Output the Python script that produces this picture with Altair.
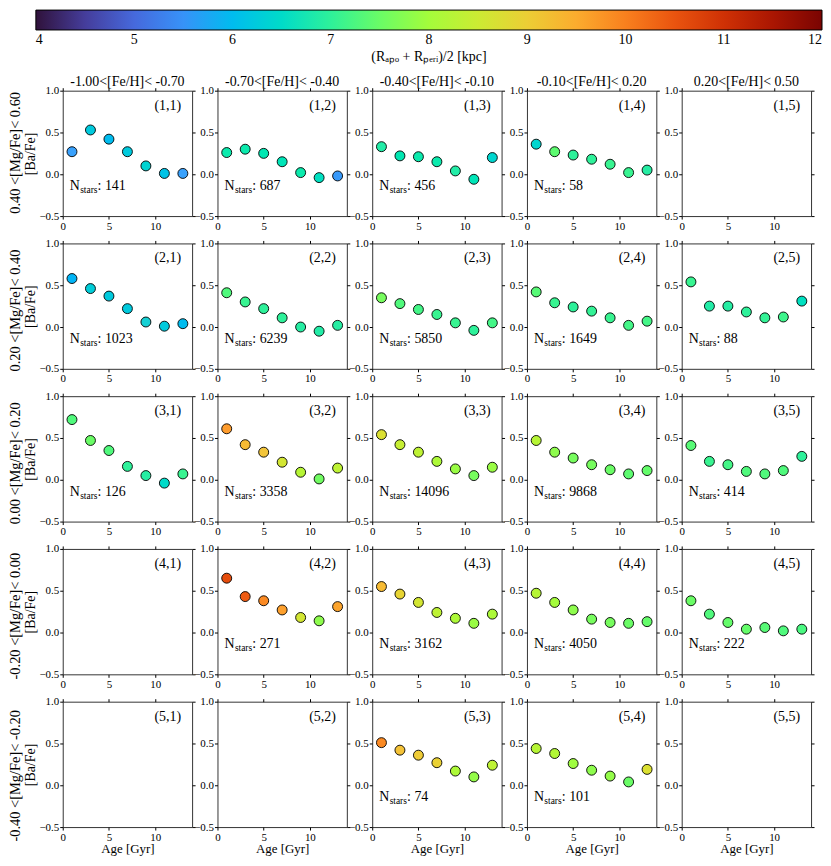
import altair as alt
import pandas as pd

AGES = [1, 3, 5, 7, 9, 11, 13]

FEH_LABELS = ["-1.00<[Fe/H]< -0.70", "-0.70<[Fe/H]< -0.40", "-0.40<[Fe/H]< -0.10",
              "-0.10<[Fe/H]< 0.20", "0.20<[Fe/H]< 0.50"]
MGFE_LABELS = ["0.40 <[Mg/Fe]< 0.60", "0.20 <[Mg/Fe]< 0.40", "0.00 <[Mg/Fe]< 0.20",
               "-0.20 <[Mg/Fe]< 0.00", "-0.40 <[Mg/Fe]< -0.20"]

# [Ba/Fe] per age bin, and mean orbital radius (colour), per panel (row, col)
BAFE_1_1 = [0.27, 0.53, 0.42, 0.27, 0.10, 0.01, 0.01]
R_1_1 = [5.7, 6.2, 6.0, 6.2, 6.35, 6.1, 5.7]
BAFE_1_2 = [0.26, 0.30, 0.25, 0.15, 0.02, -0.04, -0.02]
R_1_2 = [6.8, 6.8, 6.75, 6.7, 6.8, 6.6, 5.6]
BAFE_1_3 = [0.33, 0.22, 0.21, 0.15, 0.04, -0.06, 0.20]
R_1_3 = [6.85, 6.75, 6.8, 6.8, 6.85, 6.7, 6.4]
BAFE_1_4 = [0.36, 0.27, 0.23, 0.18, 0.12, 0.02, 0.05]
R_1_4 = [6.4, 7.4, 7.0, 7.0, 7.1, 7.1, 6.9]

BAFE_2_1 = [0.58, 0.46, 0.37, 0.22, 0.06, 0.01, 0.04]
R_2_1 = [5.9, 6.25, 6.2, 6.2, 6.3, 6.2, 6.0]
BAFE_2_2 = [0.41, 0.30, 0.22, 0.11, 0.00, -0.05, 0.02]
R_2_2 = [7.3, 7.1, 7.0, 7.0, 6.9, 6.85, 6.9]
BAFE_2_3 = [0.35, 0.28, 0.21, 0.15, 0.05, -0.04, 0.05]
R_2_3 = [7.6, 7.3, 7.2, 7.1, 7.1, 7.0, 7.2]
BAFE_2_4 = [0.42, 0.29, 0.24, 0.19, 0.11, 0.02, 0.07]
R_2_4 = [7.35, 7.1, 7.0, 7.05, 7.1, 7.2, 7.2]
BAFE_2_5 = [0.54, 0.25, 0.25, 0.18, 0.11, 0.12, 0.31]
R_2_5 = [7.1, 6.85, 6.9, 7.0, 7.05, 7.15, 6.6]

BAFE_3_1 = [0.72, 0.47, 0.35, 0.16, 0.05, -0.04, 0.07]
R_3_1 = [7.3, 7.5, 7.3, 7.0, 6.9, 6.5, 7.1]
BAFE_3_2 = [0.61, 0.42, 0.33, 0.21, 0.09, 0.01, 0.14]
R_3_2 = [9.7, 9.3, 9.15, 8.6, 8.2, 7.55, 8.3]
BAFE_3_3 = [0.54, 0.42, 0.33, 0.22, 0.13, 0.05, 0.15]
R_3_3 = [8.7, 8.4, 8.3, 8.1, 7.9, 7.6, 7.9]
BAFE_3_4 = [0.47, 0.33, 0.26, 0.18, 0.12, 0.07, 0.11]
R_3_4 = [8.2, 7.8, 7.6, 7.6, 7.5, 7.4, 7.45]
BAFE_3_5 = [0.41, 0.22, 0.18, 0.10, 0.07, 0.11, 0.28]
R_3_5 = [7.35, 7.1, 7.2, 7.3, 7.3, 7.3, 7.0]

BAFE_4_2 = [0.65, 0.43, 0.38, 0.27, 0.18, 0.14, 0.31]
R_4_2 = [10.6, 10.4, 9.9, 9.65, 8.6, 7.8, 9.6]
BAFE_4_3 = [0.55, 0.46, 0.36, 0.24, 0.17, 0.11, 0.22]
R_4_3 = [9.3, 8.9, 8.6, 8.3, 8.1, 7.9, 8.1]
BAFE_4_4 = [0.47, 0.36, 0.27, 0.16, 0.12, 0.11, 0.13]
R_4_4 = [8.2, 8.0, 7.8, 7.6, 7.6, 7.5, 7.45]
BAFE_4_5 = [0.38, 0.22, 0.12, 0.04, 0.06, 0.02, 0.04]
R_4_5 = [7.5, 7.3, 7.45, 7.45, 7.35, 7.3, 7.25]

BAFE_5_3 = [0.51, 0.42, 0.36, 0.27, 0.17, 0.10, 0.24]
R_5_3 = [9.9, 9.2, 9.05, 8.95, 8.1, 7.85, 8.3]
BAFE_5_4 = [0.44, 0.38, 0.26, 0.18, 0.11, 0.04, 0.19]
R_5_4 = [8.2, 8.15, 7.95, 7.8, 7.85, 7.5, 8.7]

PANELS = {
    (1, 1): (BAFE_1_1, R_1_1, 141), (1, 2): (BAFE_1_2, R_1_2, 687),
    (1, 3): (BAFE_1_3, R_1_3, 456), (1, 4): (BAFE_1_4, R_1_4, 58),
    (2, 1): (BAFE_2_1, R_2_1, 1023), (2, 2): (BAFE_2_2, R_2_2, 6239),
    (2, 3): (BAFE_2_3, R_2_3, 5850), (2, 4): (BAFE_2_4, R_2_4, 1649),
    (2, 5): (BAFE_2_5, R_2_5, 88),
    (3, 1): (BAFE_3_1, R_3_1, 126), (3, 2): (BAFE_3_2, R_3_2, 3358),
    (3, 3): (BAFE_3_3, R_3_3, 14096), (3, 4): (BAFE_3_4, R_3_4, 9868),
    (3, 5): (BAFE_3_5, R_3_5, 414),
    (4, 2): (BAFE_4_2, R_4_2, 271), (4, 3): (BAFE_4_3, R_4_3, 3162),
    (4, 4): (BAFE_4_4, R_4_4, 4050), (4, 5): (BAFE_4_5, R_4_5, 222),
    (5, 3): (BAFE_5_3, R_5_3, 74), (5, 4): (BAFE_5_4, R_5_4, 101),
}

TURBO = ['#30123b', '#4145ab', '#4675ed', '#39a2fc', '#1bcfd4', '#24eca6', '#61fc6c',
         '#a4fc3b', '#d1e834', '#f3c63a', '#fe9b2d', '#f36315', '#d93806', '#b11901', '#7a0402']
R_MIN, R_MAX = 4, 12
TURBO_STOPS = [R_MIN + (R_MAX - R_MIN) * k / (len(TURBO) - 1) for k in range(len(TURBO))]
CBAR_TICKS = [4, 5, 6, 7, 8, 9, 10, 11, 12]
AGE_TICKS = [0, 5, 10]
BAFE_TICKS = [-0.5, 0.0, 0.5, 1.0]

FONT = "Liberation Serif"
W, H = 130, 126

color_scale = alt.Scale(domain=TURBO_STOPS, range=TURBO)
x_scale = alt.Scale(domain=[0, 14], nice=False, zero=False)
y_scale = alt.Scale(domain=[-0.5, 1.0], nice=False, zero=False)
cbar_legend = alt.Legend(
    orient="none", legendX=-27, legendY=-81, direction="horizontal",
    gradientLength=790, gradientThickness=20, format="d",
    title="(R\u2090\u209a\u2092 + R\u209a\u2091\u1d63\u1d62)/2 [kpc]",
    titleOrient="bottom", titleAnchor="middle", titleFont=FONT, titleFontSize=14,
    titleFontWeight="normal", titleColor="black", titlePadding=3,
    values=CBAR_TICKS, labelFont=FONT, labelFontSize=14, labelColor="black",
    labelAlign="center", labelOverlap=False, labelOffset=3,
    gradientStrokeColor="black", gradientStrokeWidth=1, padding=0,
)


def make_panel(i, j):
    entry = PANELS.get((i, j))
    if entry:
        df = pd.DataFrame({"age": AGES, "bafe": entry[0], "r": entry[1]})
    else:
        df = pd.DataFrame({"age": pd.Series([], dtype=float),
                           "bafe": pd.Series([], dtype=float),
                           "r": pd.Series([], dtype=float)})
    xaxis = alt.Axis(values=AGE_TICKS, labelFlush=False,
                     title="Age [Gyr]" if i == 5 else None, titleFontSize=13)
    yaxis = alt.Axis(values=BAFE_TICKS, format=".1f",
                     title="[Ba/Fe]" if j == 1 else None, titleFontSize=14)
    pts = alt.Chart(df).mark_circle(size=100, opacity=1, stroke="black", strokeWidth=0.9).encode(
        x=alt.X("age:Q", scale=x_scale, axis=xaxis),
        y=alt.Y("bafe:Q", scale=y_scale, axis=yaxis),
        color=alt.Color("r:Q", scale=color_scale, legend=cbar_legend),
    )
    mirror = alt.Chart(df).mark_point(opacity=0).encode(
        x=alt.X("age:Q", scale=x_scale,
                axis=alt.Axis(orient="top", values=AGE_TICKS, labels=False, title=None)),
        y=alt.Y("bafe:Q", scale=y_scale,
                axis=alt.Axis(orient="right", values=BAFE_TICKS, labels=False, title=None)),
    )
    layers = [pts, mirror]
    lab = alt.Chart(pd.DataFrame({"t": [f"({i},{j})"]})).mark_text(
        align="right", baseline="alphabetic", fontSize=14, font=FONT, color="black"
    ).encode(x=alt.value(W - 11), y=alt.value(19), text="t:N")
    layers.append(lab)
    if entry:
        n_df = pd.DataFrame({"a": ["N"], "b": ["stars"], "c": [f": {entry[2]}"]})
        base = alt.Chart(n_df)
        layers.append(base.mark_text(align="left", baseline="alphabetic", fontSize=14,
                                     font=FONT, color="black")
                      .encode(x=alt.value(7), y=alt.value(100), text="a:N"))
        layers.append(base.mark_text(align="left", baseline="alphabetic", fontSize=9.5,
                                     font=FONT, color="black")
                      .encode(x=alt.value(17.5), y=alt.value(103), text="b:N"))
        layers.append(base.mark_text(align="left", baseline="alphabetic", fontSize=14,
                                     font=FONT, color="black")
                      .encode(x=alt.value(35), y=alt.value(100), text="c:N"))
    props = dict(width=W, height=H)
    if i == 1:
        props["title"] = alt.TitleParams(FEH_LABELS[j - 1], fontSize=14, font=FONT,
                                         fontWeight="normal", offset=-4, color="black")
    return alt.layer(*layers).resolve_axis(x="independent", y="independent").properties(**props)


rows = []
for i in range(1, 6):
    row = alt.hconcat(*[make_panel(i, j) for j in range(1, 6)], spacing=25.5, bounds="flush",
                      title=alt.TitleParams(MGFE_LABELS[i - 1], orient="left", anchor="middle",
                                            fontSize=14.5, font=FONT,
                                            fontWeight="normal", offset=0, color="black"))
    rows.append(row)

chart = alt.vconcat(*rows, spacing=4.5).properties(padding=0).configure_view(
    stroke="#333333", strokeWidth=1
).configure_axis(
    domain=False, grid=False, tickColor="black", tickSize=3, tickWidth=1,
    labelFont=FONT, labelFontSize=11, labelColor="black", labelPadding=1,
    titleFont=FONT, titleFontSize=13, titleFontWeight="normal", titleColor="black",
    titlePadding=1,
).configure_axisY(titleFontSize=14)

chart.save("out.html", embed_options={"renderer": "svg", "actions": False})
